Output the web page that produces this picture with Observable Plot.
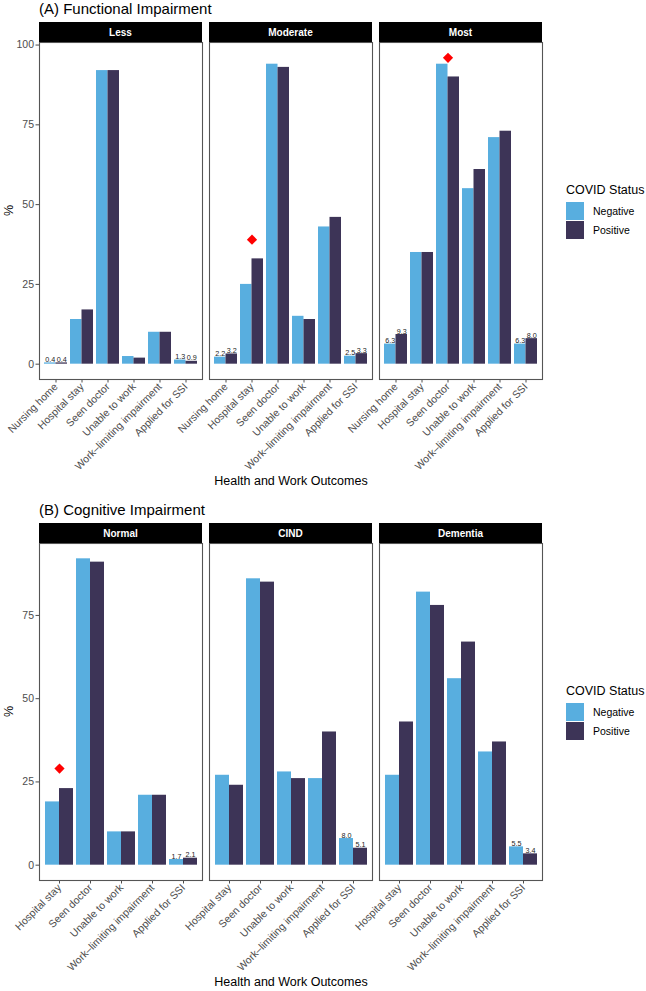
<!DOCTYPE html>
<html><head><meta charset="utf-8">
<script src="https://cdn.jsdelivr.net/npm/d3@7"></script>
<script src="https://cdn.jsdelivr.net/npm/@observablehq/plot@0.6"></script>
<style>
body{margin:0;background:#fff;font-family:"Liberation Sans",Arial,Helvetica,sans-serif;}
#root{position:relative;width:646px;height:991px;overflow:hidden;background:#fff}
.abs{position:absolute}
.title{font-size:15px;color:#000;white-space:nowrap;line-height:18px}
.xlab{font-size:12.5px;color:#000;text-align:center;line-height:15px}
.ylab{font-size:12.5px;color:#000;transform:rotate(-90deg);transform-origin:center;line-height:15px}
.legtitle{font-size:12.5px;color:#000;white-space:nowrap;line-height:15px}
.legitem{font-size:10.5px;color:#000;display:flex;align-items:center;height:19px;white-space:nowrap}
.sw{width:18px;height:18px;margin-right:9px}
</style></head><body><div id="root"></div>
<script>
const statuses = ["Negative", "Positive"];
const statusColors = ["#58AEDF", "#3D3457"];

// (A) Functional Impairment
const panelsA = ["Less", "Moderate", "Most"];
const outcomesA = ["Nursing home", "Hospital stay", "Seen doctor", "Unable to work", "Work–limiting impairment", "Applied for SSI"];
const lessNeg = [0.4, 14, 92, 2.4, 10, 1.3];
const lessPos = [0.4, 17, 92, 1.9, 10, 0.9];
const moderateNeg = [2.2, 25, 94, 15, 43, 2.5];
const moderatePos = [3.2, 33, 93, 14, 46, 3.3];
const mostNeg = [6.3, 35, 94, 55, 71, 6.3];
const mostPos = [9.3, 35, 90, 61, 73, 8.0];
const labeledA = ["Nursing home", "Applied for SSI"];
const diamondPanelsA = ["Moderate", "Most"];
const diamondOutcomesA = ["Hospital stay", "Seen doctor"];
const diamondValuesA = [39, 96];
const yTicksA = [0, 25, 50, 75, 100];

// (B) Cognitive Impairment
const panelsB = ["Normal", "CIND", "Dementia"];
const outcomesB = ["Hospital stay", "Seen doctor", "Unable to work", "Work–limiting impairment", "Applied for SSI"];
const normalNeg = [19, 92, 10, 21, 1.7];
const normalPos = [23, 91, 10, 21, 2.1];
const cindNeg = [27, 86, 28, 26, 8.0];
const cindPos = [24, 85, 26, 40, 5.1];
const dementiaNeg = [27, 82, 56, 34, 5.5];
const dementiaPos = [43, 78, 67, 37, 3.4];
const labeledB = ["Applied for SSI"];
const diamondPanelsB = ["Normal"];
const diamondOutcomesB = ["Hospital stay"];
const diamondValuesB = [29];
const yTicksB = [0, 25, 50, 75];

const root = document.getElementById("root");
const FONT = "Liberation Sans, Arial, Helvetica, sans-serif";

function div(cls, text, css) {
  const d = document.createElement("div");
  d.className = "abs " + cls;
  if (text != null) d.textContent = text;
  Object.assign(d.style, css);
  root.appendChild(d);
  return d;
}

function section(cfg) {
  const {panels, outcomes, neg, pos, labeled, dPanels, dOutcomes, dValues, yTicks} = cfg;
  const bars = [];
  panels.forEach((p, i) => outcomes.forEach((o, j) => {
    bars.push({panel: p, outcome: o, status: "Negative", value: neg[i][j]});
    bars.push({panel: p, outcome: o, status: "Positive", value: pos[i][j]});
  }));
  const diamonds = dPanels.map((p, i) => ({panel: p, outcome: dOutcomes[i], value: dValues[i]}));
  const maxV = d3.max([...bars.map(d => d.value), ...dValues]);
  const yDomain = [-0.05 * maxV, 1.05 * maxV];
  const negData = bars.filter(d => d.status === "Negative");
  const posData = bars.filter(d => d.status === "Positive");
  const fmt = d3.format(".1f");

  function build(h) {
    return Plot.plot({
      width: 550, height: 457,
      marginTop: 20, marginLeft: 39, marginRight: 7, marginBottom: 100,
      style: {fontFamily: FONT, fontSize: "10.5px", color: "#4d4d4d", background: "transparent", overflow: "visible"},
      fx: {domain: panels, paddingInner: 0.041, paddingOuter: 0, axis: null, label: null},
      x: {domain: outcomes, paddingInner: 0.1, paddingOuter: 0.15, tickRotate: -45, tickSize: 3.5, tickPadding: 2, label: null},
      y: {domain: yDomain, ticks: yTicks, tickSize: 3.5, tickPadding: 2, label: null, tickFormat: d3.format("d")},
      color: {domain: statuses, range: statusColors},
      marks: [
        Plot.barY(negData, {fx: "panel", x: "outcome", y: "value", fill: "status", insetLeft: 0, insetRight: h}),
        Plot.barY(posData, {fx: "panel", x: "outcome", y: "value", fill: "status", insetLeft: h, insetRight: 0}),
        Plot.text(negData.filter(d => labeled.includes(d.outcome)), {fx: "panel", x: "outcome", y: "value", text: d => fmt(d.value), dx: -h / 2, dy: -1, lineAnchor: "bottom", fontSize: 7.2, fill: "#222"}),
        Plot.text(posData.filter(d => labeled.includes(d.outcome)), {fx: "panel", x: "outcome", y: "value", text: d => fmt(d.value), dx: h / 2, dy: -1, lineAnchor: "bottom", fontSize: 7.2, fill: "#222"}),
        Plot.dot(diamonds, {fx: "panel", x: "outcome", y: "value", symbol: "diamond2", r: 4.6, fill: "#FF0000"}),
        Plot.frame({stroke: "#555", strokeWidth: 1.1})
      ]
    });
  }
  let chart = build(0);
  const bw = chart.scale("x").bandwidth;
  chart = build(bw / 2);

  // strips drawn from the fx scale
  const fxs = chart.scale("fx");
  const svg = d3.select(chart.tagName.toLowerCase() === "svg" ? chart : chart.querySelector("svg"));
  const sw = fxs.bandwidth;
  panels.forEach(p => {
    const x0 = fxs.apply(p);
    svg.append("rect").attr("x", x0).attr("y", 0).attr("width", sw).attr("height", 20).attr("fill", "#000");
    svg.append("text").attr("x", x0 + sw / 2).attr("y", 10).attr("dy", "0.35em")
      .attr("text-anchor", "middle").attr("fill", "#fff").attr("font-weight", "bold")
      .attr("font-size", "10px").attr("font-family", FONT).text(p);
  });
  return chart;
}

function legend(top) {
  div("legtitle", "COVID Status", {left: "566px", top: top + "px"});
  statuses.forEach((s, i) => {
    const it = div("legitem", null, {left: "566px", top: (top + 18 + i * 19) + "px"});
    const sw = document.createElement("div");
    sw.className = "sw";
    sw.style.background = statusColors[i];
    it.appendChild(sw);
    const t = document.createElement("span");
    t.textContent = s;
    it.appendChild(t);
  });
}

// Section A
div("title", "(A) Functional Impairment", {left: "39px", top: "0px"});
const chartA = section({panels: panelsA, outcomes: outcomesA, neg: [lessNeg, moderateNeg, mostNeg], pos: [lessPos, moderatePos, mostPos], labeled: labeledA, dPanels: diamondPanelsA, dOutcomes: diamondOutcomesA, dValues: diamondValuesA, yTicks: yTicksA});
const wrapA = div("", null, {left: "0px", top: "22px"});
wrapA.appendChild(chartA);
div("ylab", "%", {left: "2px", top: "203px", width: "14px", textAlign: "center"});
div("xlab", "Health and Work Outcomes", {left: "39px", top: "474px", width: "504px"});
legend(183);

// Section B
div("title", "(B) Cognitive Impairment", {left: "39px", top: "501px"});
const chartB = section({panels: panelsB, outcomes: outcomesB, neg: [normalNeg, cindNeg, dementiaNeg], pos: [normalPos, cindPos, dementiaPos], labeled: labeledB, dPanels: diamondPanelsB, dOutcomes: diamondOutcomesB, dValues: diamondValuesB, yTicks: yTicksB});
const wrapB = div("", null, {left: "0px", top: "523px"});
wrapB.appendChild(chartB);
div("ylab", "%", {left: "2px", top: "704px", width: "14px", textAlign: "center"});
div("xlab", "Health and Work Outcomes", {left: "39px", top: "975px", width: "504px"});
legend(684);
</script></body></html>
